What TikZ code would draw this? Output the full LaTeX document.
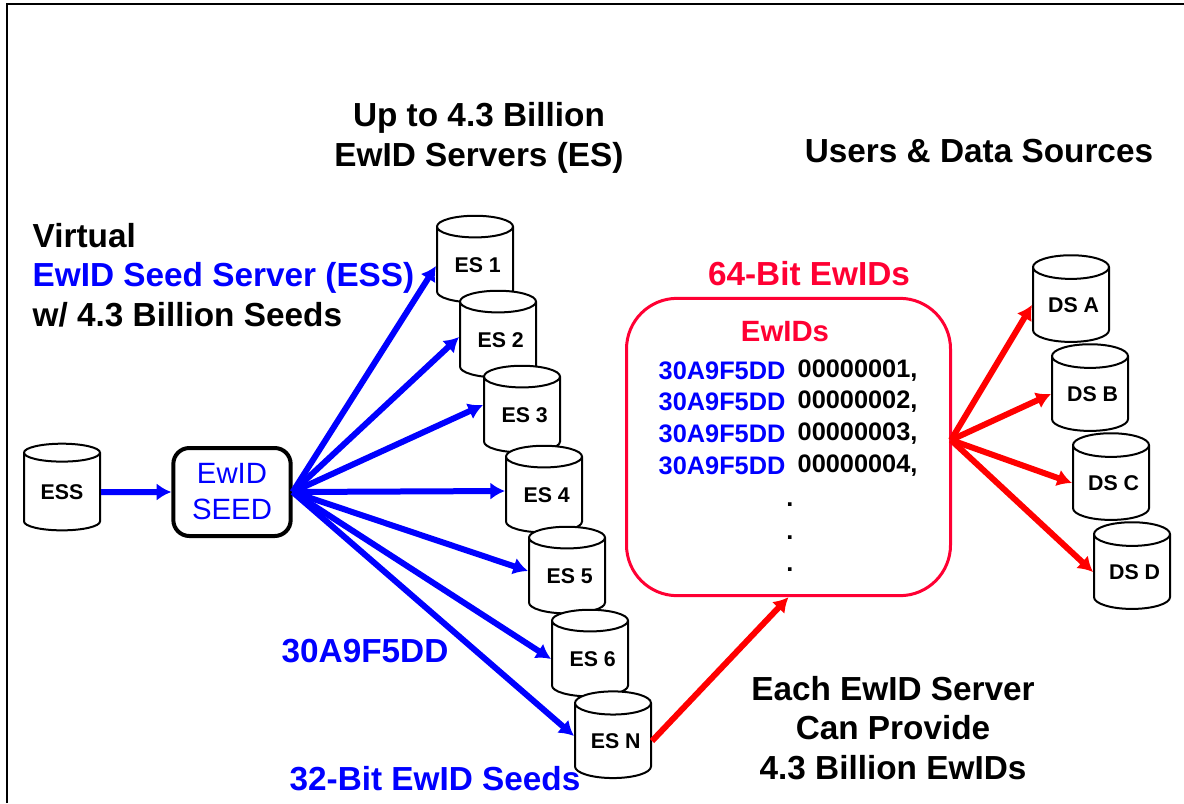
\documentclass[tikz,border=0pt]{standalone}
\usepackage{fontspec}
\setmainfont{Liberation Sans}
\usetikzlibrary{arrows.meta, shapes.geometric}
\definecolor{crimson}{RGB}{255, 0, 51}
\tikzset{
	store/.style = {cylinder, shape border rotate = 90, aspect = 0.42, draw = black, fill = white, line width = 1.5pt, minimum width = 57pt, minimum height = 65pt, inner sep = 0pt, font = \fontsize{16}{19}\selectfont\bfseries},
	heading/.style = {align = center, font = \fontsize{25}{29.5}\selectfont\bfseries},
	idline/.style = {anchor = west, font = \fontsize{19}{23}\selectfont\bfseries},
	feed/.style = {->, line width = 4.5pt, blue},
	serve/.style = {->, line width = 4.5pt, red}
}
\begin{document}
\begin{tikzpicture}[x = 0.75pt, y = -0.75pt, > = {Latex[length = 11pt, width = 13pt]}]

	\useasboundingbox (0, 0) rectangle (1184, 803);

	% Frame
	
	\draw [line width = 1.5pt] (7, 803) -- (7, 4) -- (1184, 4);
	
	% Seed server and seed box
	
	\node [store] (ess) at (62, 492) {ESS};
	\node [draw = black, line width = 3pt, rounded corners = 12pt, minimum width = 88pt, minimum height = 66pt, align = center, text = blue, font = \fontsize{22}{27}\selectfont] (seed) at (232, 492) {EwID\\SEED};
	
	\draw [feed] (ess.east) -- (seed.west);
	
	% EwID servers
	
	\foreach \name/\x/\y/\tag in {es1/475/265/ES 1, es2/498/340/ES 2, es3/522/415/ES 3, es4/544/495/ES 4, es5/567/576/ES 5, es6/590/659/ES 6, esn/613/741/ES N}
		\node [store] (\name) at (\x, \y) {\hspace{4pt}\tag};
		
	\foreach \name/\drop in {es1/1, es2/-3, es3/-10, es4/-4, es5/-5, es6/0, esn/-5}
		\draw [feed] (seed.east) -- ([yshift = -\drop * 0.75pt] \name.west);
		
	% EwID box
	
	\node [draw = crimson, line width = 2.25pt, rounded corners = 38pt, minimum width = 243pt, minimum height = 223pt] (box) at (788.5, 447) {};
	\node [crimson, font = \fontsize{22}{26}\selectfont\bfseries] (boxtitle) at (785, 332) {EwIDs};
	
	\foreach \y/\num in {371/00000001, 402/00000002, 434/00000003, 466/00000004} {
		\node [idline, blue] (seed\num) at (654, \y) {30A9F5DD};
		\node [idline] (id\num) at (793, \y) {\num,};
	}
	
	\foreach \y in {505, 538, 570}
		\node [idline, anchor = center] (dot\y) at (790, \y) {.};
		
	\draw [serve] (esn.east) -- (box.south);
	
	% Data sources
	
	\foreach \name/\x/\y/\tag in {dsa/1071/305/DS A, dsb/1090/394/DS B, dsc/1111/483/DS C, dsd/1132/572/DS D}
		\node [store] (\name) at (\x, \y) {\hspace{4pt}\tag};
		
	\coordinate (fan) at (951, 440);
	
	\foreach \name in {dsa, dsb, dsc, dsd}
		\draw [serve] (fan) -- (\name.west);
		
	% Labels
	
	\node [heading] (servers) at (479, 138) {Up to 4.3 Billion\\EwID Servers (ES)};
	\node [heading] (users) at (979, 151) {Users \& Data Sources};
	\node [heading, align = left, anchor = west] (virtual) at (28, 275) {Virtual\\\textcolor{blue}{EwID Seed Server (ESS)}\\w/ 4.3 Billion Seeds};
	\node [heading, crimson] (bits) at (809, 274) {64-Bit EwIDs};
	\node [heading, blue] (value) at (365, 651) {30A9F5DD};
	\node [heading, blue] (seeds) at (435, 779) {32-Bit EwID Seeds};
	\node [heading] (each) at (893, 728) {Each EwID Server\\Can Provide\\4.3 Billion EwIDs};

\end{tikzpicture}
\end{document}
